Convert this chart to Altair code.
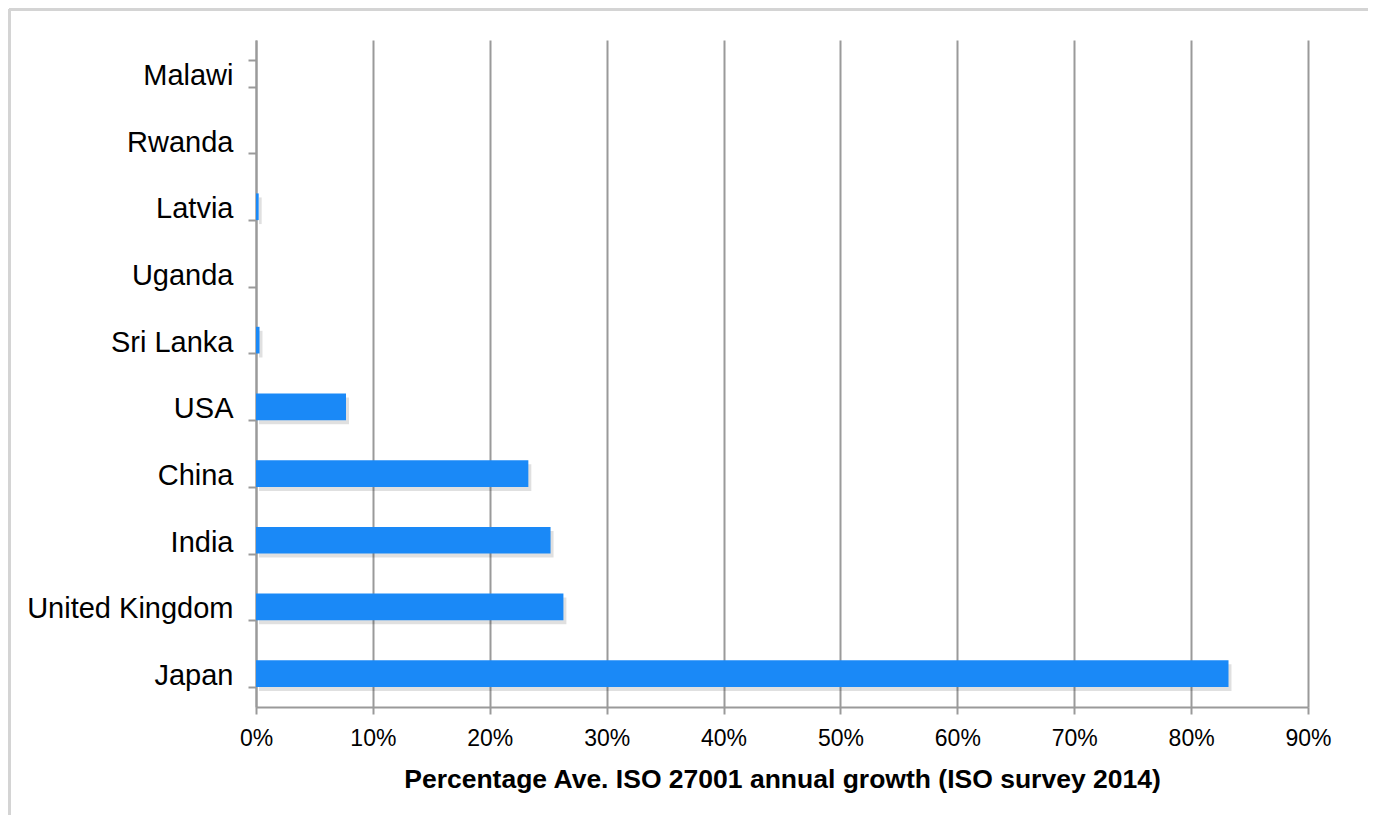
import altair as alt
import pandas as pd

countries = ["Malawi", "Rwanda", "Latvia", "Uganda", "Sri Lanka", "USA",
             "China", "India", "United Kingdom", "Japan"]
growth = [0.0, 0.0, 0.0023, 0.0, 0.003, 0.077, 0.233, 0.252, 0.263, 0.832]
x_ticks = [0.0, 0.1, 0.2, 0.3, 0.4, 0.5, 0.6, 0.7, 0.8, 0.9]
x_title = "Percentage Ave. ISO 27001 annual growth (ISO survey 2014)"

df = pd.DataFrame({"country": countries, "growth": growth})

FONT = "Liberation Sans"
BAR = "#1A89F7"
W, H = 1052, 667

y_scale = alt.Scale(paddingInner=0.6, paddingOuter=0.3)
x_scale = alt.Scale(domain=[0, 0.9], nice=False)

x_axis = alt.Axis(values=x_ticks, format=".0%", title=x_title,
                  grid=True, gridColor="#9a9a9a", gridWidth=2,
                  domainColor="#9a9a9a", domainWidth=2,
                  tickColor="#9a9a9a", tickWidth=2, tickSize=7,
                  labelFontSize=23, labelFont=FONT, labelColor="#000000",
                  labelPadding=13, labelFlush=False,
                  titleFont=FONT, titleFontSize=26.5,
                  titleFontWeight="bold", titleColor="#000000",
                  titlePadding=16)
y_axis = alt.Axis(title=None, tickBand="extent", tickSize=8,
                  labelPadding=15, labelFontSize=29, labelFont=FONT,
                  labelColor="#000000", labelLimit=0, labelOffset=2,
                  domainColor="#9a9a9a",
                  tickColor="#9a9a9a", domainWidth=2, tickWidth=2,
                  grid=False)

bars = alt.Chart(df).mark_bar(color=BAR).encode(
    x=alt.X("growth:Q", scale=x_scale, axis=x_axis),
    y=alt.Y("country:N", sort=countries, scale=y_scale, axis=y_axis),
)

shadow = alt.Chart(df).mark_bar(color="#000000", opacity=0.12, xOffset=3, yOffset=4).encode(
    x=alt.X("growth:Q", scale=x_scale, axis=x_axis),
    y=alt.Y("country:N", sort=countries, scale=y_scale, axis=y_axis),
)

border = alt.Chart(df).mark_rule(color="#d4d4d4", strokeWidth=3).encode(
    x=alt.value(-247), y=alt.value(-31), y2=alt.value(900))
border_top = alt.Chart(df).mark_rule(color="#d4d4d4", strokeWidth=3).encode(
    x=alt.value(-247), x2=alt.value(1200), y=alt.value(-31))

chart = alt.layer(shadow, bars, border, border_top).properties(
    width=W, height=H,
    autosize=alt.AutoSizeParams(type="none"),
    padding={"left": 248, "top": 32, "right": 60, "bottom": 108},
    background="#ffffff",
).configure_view(stroke=None)

chart.save("out.html", embed_options={"renderer": "svg", "actions": False})
